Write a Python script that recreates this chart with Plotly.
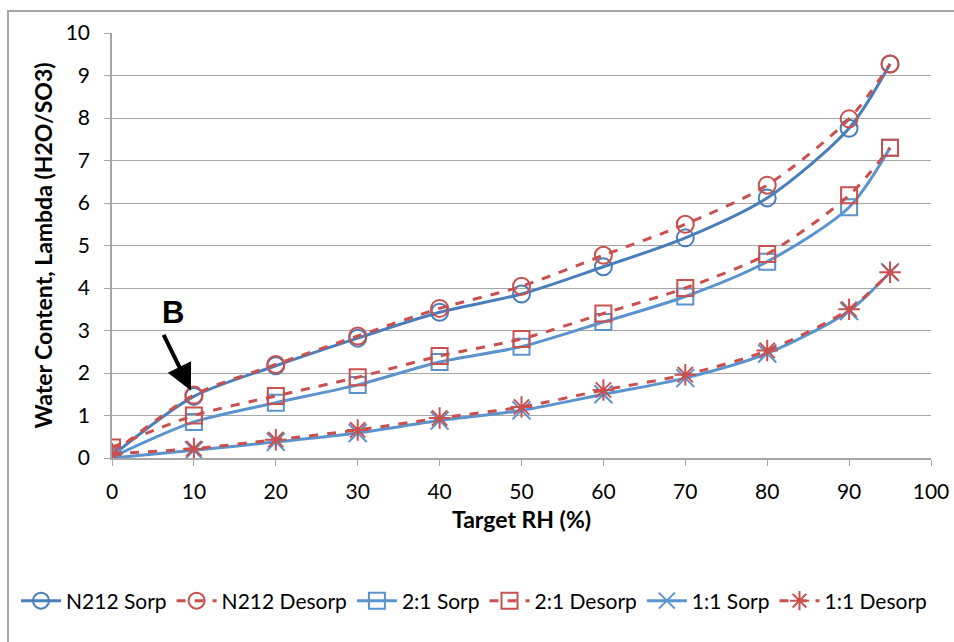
import plotly.graph_objects as go

rh = [0, 10, 20, 30, 40, 50, 60, 70, 80, 90, 95]
n212_sorp = [0.05, 1.45, 2.17, 2.82, 3.43, 3.86, 4.5, 5.18, 6.12, 7.76, 9.27]
n212_desorp = [0.1, 1.48, 2.2, 2.87, 3.52, 4.04, 4.77, 5.5, 6.42, 7.98, 9.27]
r21_sorp = [0.02, 0.85, 1.3, 1.72, 2.26, 2.62, 3.2, 3.8, 4.62, 5.9, 7.3]
r21_desorp = [0.25, 1.0, 1.46, 1.9, 2.4, 2.8, 3.4, 4.0, 4.8, 6.18, 7.3]
r11_sorp = [0.0, 0.18, 0.38, 0.59, 0.88, 1.12, 1.5, 1.88, 2.46, 3.46, 4.37]
r11_desorp = [0.1, 0.22, 0.43, 0.66, 0.94, 1.2, 1.6, 1.96, 2.53, 3.5, 4.37]

FONT = "Lato"
BLUE_D = "#4A7EBB"
BLUE = "#5B93CF"
RED = "#C9504D"

series = [
    ("N212 Sorp", n212_sorp, BLUE_D, "solid", "circle-open", 17),
    ("N212 Desorp", n212_desorp, RED, "dash", "circle-open", 17),
    ("2:1 Sorp", r21_sorp, BLUE, "solid", "square-open", 16),
    ("2:1 Desorp", r21_desorp, RED, "dash", "square-open", 16),
    ("1:1 Sorp", r11_sorp, BLUE, "solid", "x-thin-open", 18),
    ("1:1 Desorp", r11_desorp, RED, "dash", "asterisk-open", 18),
]

fig = go.Figure()
for name, ys, col, dash, sym, sz in series:
    fig.add_trace(go.Scatter(
        x=rh, y=ys, name=name, mode="lines+markers",
        line=dict(color=col, width=3, dash=dash, shape="spline", smoothing=0.8),
        marker=dict(symbol=sym, size=sz, color=col, line=dict(color=col, width=2)),
    ))

L, R, T, B = 112, 23, 33, 184
W, H = 954, 642
pw, ph = W - L - R, H - T - B

def px(x):
    return (x - L) / pw

def py(y):
    return (H - B - y) / ph

fig.update_layout(
    width=W, height=H,
    margin=dict(l=L, r=R, t=T, b=B, autoexpand=False),
    paper_bgcolor="white", plot_bgcolor="white",
    font=dict(family=FONT, size=21, color="black"),
    showlegend=True,
    legend=dict(orientation="h", x=px(16), y=py(601), xanchor="left", yanchor="middle",
                font=dict(size=21), itemwidth=40, tracegroupgap=0,
                bgcolor="rgba(0,0,0,0)"),
    xaxis=dict(range=[0, 100], tickvals=[0, 10, 20, 30, 40, 50, 60, 70, 80, 90, 100],
               automargin=False,
               showgrid=False, zeroline=False, showline=True, linecolor="#A6A6A6", linewidth=1.5,
               ticks="outside", ticklen=6, tickcolor="#A6A6A6",
               tickfont=dict(size=21), ticklabelstandoff=8,
               title=dict(text="<b>Target RH (%)</b>", font=dict(size=23), standoff=10)),
    yaxis=dict(range=[0, 10], tickvals=list(range(11)),
               automargin=False,
               showgrid=True, gridcolor="#A6A6A6", gridwidth=1.2, zeroline=False,
               showline=True, linecolor="#A6A6A6", linewidth=1.5,
               ticks="outside", ticklen=6, tickcolor="#A6A6A6",
               tickfont=dict(size=21), ticklabelstandoff=10,
               title=dict(text="<b>Water Content, Lambda (H2O/SO3)</b>", font=dict(size=23), standoff=7)),
)

# outer chart-area border
fig.add_shape(type="rect", xref="paper", yref="paper",
              x0=px(8), y0=py(700), x1=px(1000), y1=py(11),
              line=dict(color="#A6A6A6", width=2), fillcolor="rgba(0,0,0,0)", layer="below")

# "B" label with arrow to the N212 point at 10% RH
fig.add_annotation(x=px(160), y=py(312), xref="paper", yref="paper", text="<b>B</b>",
                   showarrow=False, font=dict(family="Liberation Sans", size=31, color="black"))
fig.add_annotation(x=10, y=n212_sorp[1], xref="x", yref="y",
                   ax=-28, ay=-57, axref="pixel", ayref="pixel",
                   xshift=-3, yshift=6,
                   showarrow=True, arrowhead=2, arrowsize=1.3, arrowwidth=4, arrowcolor="black", text="")

fig.write_html("out.html")
